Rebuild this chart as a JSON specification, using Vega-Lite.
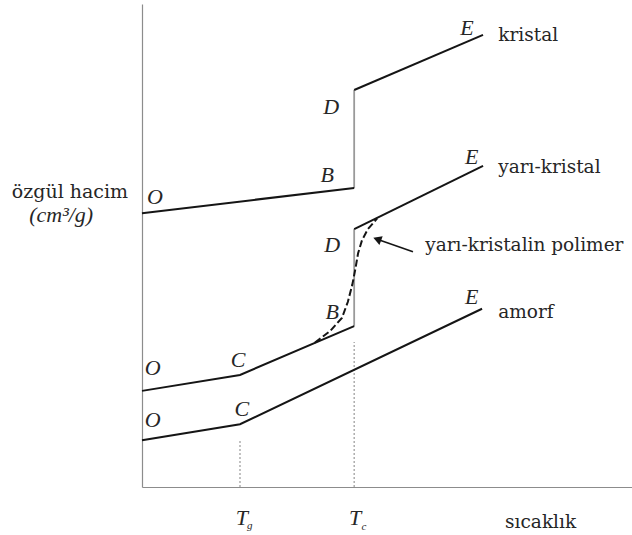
{
  "$schema": "https://vega.github.io/schema/vega-lite/v6.json",
  "autosize": {"type": "none"},
  "padding": {"left": 142, "top": 4, "right": 0, "bottom": 48},
  "width": 490,
  "height": 483,
  "background": "white",
  "config": {
    "view": {"stroke": null},
    "axis": {"domainColor": "#8c8c8c", "domainWidth": 1.2, "ticks": false, "labels": false, "grid": false, "title": null}
  },
  "datasets": {
    "lines": [
      {"seg": "kristal-1", "i": 1, "x": 0, "y": 56.7},
      {"seg": "kristal-1", "i": 2, "x": 43.3, "y": 61.9},
      {"seg": "kristal-2", "i": 1, "x": 43.3, "y": 82.2},
      {"seg": "kristal-2", "i": 2, "x": 69.6, "y": 93.6},
      {"seg": "yari-1", "i": 1, "x": 0, "y": 19.9},
      {"seg": "yari-1", "i": 2, "x": 20, "y": 23.2},
      {"seg": "yari-1", "i": 3, "x": 43.3, "y": 33.3},
      {"seg": "yari-2", "i": 1, "x": 43.3, "y": 53.4},
      {"seg": "yari-2", "i": 2, "x": 69.6, "y": 66.5},
      {"seg": "amorf", "i": 1, "x": 0, "y": 9.7},
      {"seg": "amorf", "i": 2, "x": 20, "y": 13.0},
      {"seg": "amorf", "i": 3, "x": 69.4, "y": 36.9}
    ],
    "jumps": [
      {"curve": "kristal", "x": 43.3, "y": 61.9, "y2": 82.2},
      {"curve": "yari", "x": 43.3, "y": 33.3, "y2": 53.4}
    ],
    "guides": [
      {"t": "Tg", "x": 20, "y": 0, "y2": 9.7},
      {"t": "Tc", "x": 43.3, "y": 0, "y2": 30.0}
    ],
    "dashed": [
      {"i": 1, "x": 35.3, "y": 29.9},
      {"i": 2, "x": 38.4, "y": 32.3},
      {"i": 3, "x": 40.8, "y": 35.0},
      {"i": 4, "x": 42.0, "y": 38.3},
      {"i": 5, "x": 42.9, "y": 41.8},
      {"i": 6, "x": 43.5, "y": 44.9},
      {"i": 7, "x": 44.1, "y": 48.4},
      {"i": 8, "x": 44.9, "y": 51.1},
      {"i": 9, "x": 46.1, "y": 53.4},
      {"i": 10, "x": 48.0, "y": 55.6}
    ],
    "arrow": [
      {"x": 55.3, "y": 48.7, "x2": 48.0, "y2": 51.3}
    ],
    "letters": [
      {"label": "O", "x": 2.65, "y": 60.0},
      {"label": "B", "x": 37.8, "y": 64.6},
      {"label": "D", "x": 38.6, "y": 78.7},
      {"label": "E", "x": 66.3, "y": 95.0},
      {"label": "E", "x": 67.3, "y": 68.3},
      {"label": "D", "x": 38.8, "y": 50.1},
      {"label": "B", "x": 38.8, "y": 36.2},
      {"label": "O", "x": 2.2, "y": 24.6},
      {"label": "C", "x": 19.6, "y": 26.3},
      {"label": "O", "x": 2.2, "y": 13.9},
      {"label": "C", "x": 20.4, "y": 16.1},
      {"label": "E", "x": 67.3, "y": 39.3}
    ],
    "words": [
      {"label": "kristal", "x": 72.7, "y": 93.6},
      {"label": "yarı-kristal", "x": 72.7, "y": 66.3},
      {"label": "amorf", "x": 72.7, "y": 36.2},
      {"label": "yarı-kristalin polimer", "x": 57.8, "y": 50.1},
      {"label": "sıcaklık", "x": 74.1, "y": -7.2}
    ],
    "ylabel": [
      {"label": "özgül hacim", "x": -14.7, "y": 61.1}
    ],
    "yunit": [
      {"label": "(cm³/g)", "x": -16.5, "y": 56.3}
    ],
    "tmain": [
      {"label": "T", "x": 20.4, "y": -6.4},
      {"label": "T", "x": 43.5, "y": -6.4}
    ],
    "tsub": [
      {"label": "g", "x": 22.0, "y": -8.0},
      {"label": "c", "x": 45.3, "y": -8.2}
    ]
  },
  "encoding": {
    "x": {"field": "x", "type": "quantitative", "scale": {"domain": [0, 100], "nice": false, "zero": false}, "axis": {"orient": "bottom"}},
    "y": {"field": "y", "type": "quantitative", "scale": {"domain": [0, 100], "nice": false, "zero": false}, "axis": {"orient": "left"}}
  },
  "layer": [
    {
      "mark": {"type": "rule", "color": "#8c8c8c", "strokeWidth": 1.2},
      "encoding": {"y": {"datum": 100}, "x": null}
    },
    {
      "data": {"name": "guides"},
      "mark": {"type": "rule", "color": "#999999", "strokeWidth": 1.2, "strokeDash": [2, 2]},
      "encoding": {"y2": {"field": "y2"}}
    },
    {
      "data": {"name": "jumps"},
      "mark": {"type": "rule", "color": "#9a9a9a", "strokeWidth": 1.8},
      "encoding": {"y2": {"field": "y2"}}
    },
    {
      "data": {"name": "lines"},
      "mark": {"type": "line", "color": "#151515", "strokeWidth": 2},
      "encoding": {"detail": {"field": "seg"}, "order": {"field": "i"}}
    },
    {
      "data": {"name": "dashed"},
      "mark": {"type": "line", "color": "#151515", "strokeWidth": 2, "strokeDash": [7, 3]},
      "encoding": {"order": {"field": "i"}}
    },
    {
      "data": {"name": "arrow"},
      "mark": {"type": "rule", "color": "#151515", "strokeWidth": 1.6},
      "encoding": {"x2": {"field": "x2"}, "y2": {"field": "y2"}}
    },
    {
      "data": {"name": "arrow"},
      "mark": {"type": "point", "shape": "triangle-left", "filled": true, "color": "#151515", "size": 90, "angle": 20, "opacity": 1},
      "encoding": {"x": {"field": "x2"}, "y": {"field": "y2"}}
    },
    {
      "data": {"name": "letters"},
      "mark": {"type": "text", "font": "Liberation Serif, serif", "color": "#262626", "fontSize": 22, "fontStyle": "italic", "align": "center", "baseline": "middle"},
      "encoding": {"text": {"field": "label"}}
    },
    {
      "data": {"name": "words"},
      "mark": {"type": "text", "font": "DejaVu Serif", "color": "#262626", "fontSize": 18.5, "align": "left", "baseline": "middle"},
      "encoding": {"text": {"field": "label"}}
    },
    {
      "data": {"name": "ylabel"},
      "mark": {"type": "text", "font": "DejaVu Serif", "color": "#262626", "fontSize": 19, "align": "center", "baseline": "middle"},
      "encoding": {"text": {"field": "label"}}
    },
    {
      "data": {"name": "yunit"},
      "mark": {"type": "text", "font": "Liberation Serif, serif", "color": "#262626", "fontSize": 22, "fontStyle": "italic", "align": "center", "baseline": "middle"},
      "encoding": {"text": {"field": "label"}}
    },
    {
      "data": {"name": "tmain"},
      "mark": {"type": "text", "font": "Liberation Serif, serif", "color": "#262626", "fontSize": 22, "fontStyle": "italic", "align": "center", "baseline": "middle"},
      "encoding": {"text": {"field": "label"}}
    },
    {
      "data": {"name": "tsub"},
      "mark": {"type": "text", "font": "Liberation Serif, serif", "color": "#262626", "fontSize": 11, "fontStyle": "italic", "align": "center", "baseline": "middle"},
      "encoding": {"text": {"field": "label"}}
    }
  ]
}
